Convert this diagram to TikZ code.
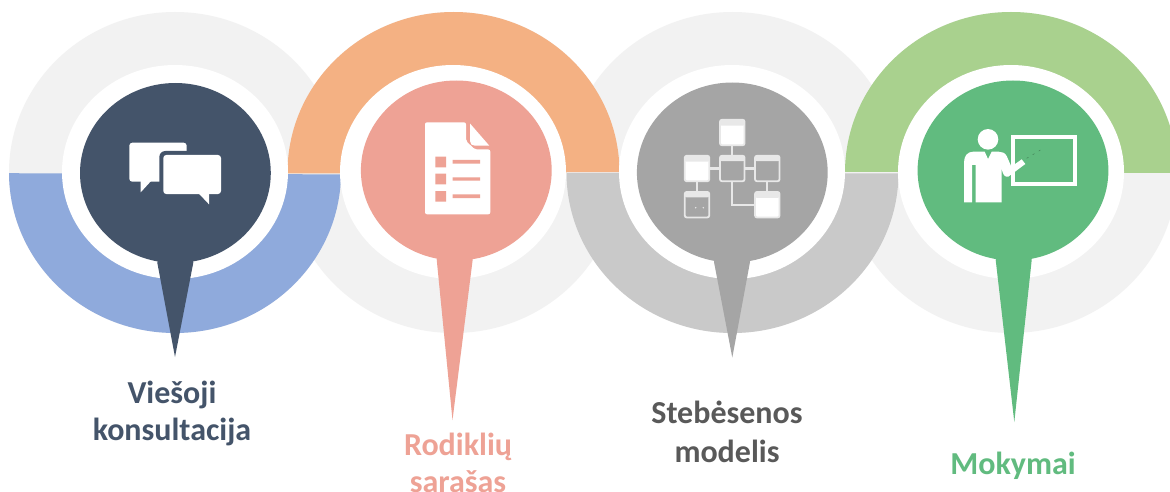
\documentclass[tikz,border=0pt]{standalone}
\usepackage{fontspec}
\setmainfont{Carlito}
\definecolor{ringgray}{HTML}{F2F2F2}
\definecolor{ringblue}{HTML}{8FAADC}
\definecolor{ringorange}{HTML}{F4B183}
\definecolor{ringmid}{HTML}{C9C9C9}
\definecolor{ringgreen}{HTML}{A9D18E}
\definecolor{capslate}{HTML}{44546A}
\definecolor{capsalmon}{HTML}{EEA295}
\definecolor{capgray}{HTML}{A5A5A5}
\definecolor{capgreen}{HTML}{61BB7F}
\definecolor{txtgray}{HTML}{595959}
\definecolor{iconline}{HTML}{E8E8E8}
\newcommand{\ringfull}[1]{\fill[ringgray] (#1,172.5) ellipse [x radius=166pt,y radius=160.5pt];}
% centre, colour, y left, y right, far y
\newcommand{\ringpart}[5]{\begin{scope}\clip (#1-170,#3) -- (#1+170,#4) -- (#1+170,#5) -- (#1-170,#5) -- cycle;
 \fill[#2] (#1,172.5) ellipse [x radius=166pt,y radius=160.5pt];\end{scope}}
\newcommand{\hole}[1]{\fill[white] (#1,172) ellipse [x radius=113pt,y radius=107pt];}
\newcommand{\capdisc}[7]{\fill[#1] (#2,#3) ellipse [x radius=95.4pt,y radius=90pt];
 \fill[#1] (#4,#5) -- (#6,#7) -- (#4+36,#5) -- (#2,#3) -- cycle;}
\tikzset{
 label text/.style={font=\bfseries\fontsize{32}{37}\selectfont,align=center,inner sep=0pt,anchor=base},
 iconbox/.style={rectangle,rounded corners=2pt,draw=iconline,line width=1.8pt,minimum width=24.5pt,minimum height=25.5pt,inner sep=0pt,outer sep=0pt},
 solidbox/.style={iconbox,fill=white,path picture={\fill[iconline] (path picture bounding box.north west) rectangle ([yshift=-6pt]path picture bounding box.north east);}},
 hollowbox/.style={iconbox,fill=capgray,path picture={\fill[iconline] (path picture bounding box.north west) rectangle ([yshift=-5.5pt]path picture bounding box.north east);}},
 iconlink/.style={draw=iconline,line width=2.2pt},
}
\begin{document}
\begin{tikzpicture}[x=1pt,y=-1pt]
\useasboundingbox (0,0) rectangle (1170,492);
\fill[white] (0,0) rectangle (1170,492);
% base rings
\ringfull{175}\ringfull{453.5}\ringfull{732.5}\ringfull{1011}
% coloured halves
\ringpart{175}{ringblue}{173.2}{174.4}{400}
\ringpart{453.5}{ringorange}{173.5}{172}{0}
\ringpart{732.5}{ringmid}{172.8}{173.4}{400}
\ringpart{1011}{ringgreen}{171.8}{173}{0}
% holes
\hole{175}\hole{453}\hole{732}\hole{1011}
% caps and pins
\capdisc{capslate}{175.4}{173}{157.3}{262.7}{175}{357}
\capdisc{capsalmon}{456.3}{170.5}{436.7}{259.5}{452.5}{420}
\capdisc{capgray}{732.3}{172.5}{714}{262}{732.3}{357.5}
\capdisc{capgreen}{1013}{170.5}{995.7}{260}{1014.3}{422}
% icon 1: speech bubbles
\fill[white,rounded corners=3pt] (129.3,142.7) rectangle (186.7,181.7);
\fill[white] (140.7,180) -- (140.7,192.3) -- (152,180) -- cycle;
\fill[capslate,rounded corners=6pt] (159.3,151) rectangle (225,198);
\fill[white,rounded corners=3pt] (163.3,155) rectangle (221,194);
\fill[white] (198.3,193) -- (209,204.3) -- (209,193) -- cycle;
% icon 2: document with list
\fill[white,rounded corners=2pt] (425,122.3) -- (466,122.3) -- (466,141) -- (475,149.5) -- (490.3,149.5) -- (490.3,214.3) -- (425,214.3) -- cycle;
\fill[white] (470,123.5) -- (489.3,145.7) -- (475,145.7) .. controls (472,145.7) and (470,144) .. (470,141) -- cycle;
\fill[capsalmon] (435.3,156.7) rectangle (446,167.3) (435.3,173.7) rectangle (446,184.3) (435.3,191) rectangle (446,201.7);
\fill[capsalmon] (452.7,160) rectangle (480,163.7) (452.7,177.3) rectangle (480,180.7) (452.7,194.3) rectangle (480,198);
% icon 3: flow of boxes
\node[solidbox] (boxtop) at (732.3,132.5) {};
\node[solidbox] (boxleft) at (697,168.5) {};
\node[hollowbox] (boxmid) at (732.3,168.5) {};
\node[hollowbox] (boxright) at (767.3,168.5) {};
\node[hollowbox] (boxlow) at (697,204.7) {};
\node[solidbox] (boxend) at (767.3,204.7) {};
\draw[iconlink] (boxtop) -- (boxmid);
\draw[iconlink] (boxleft) -- (boxmid);
\draw[iconlink] (boxmid) -- (boxright);
\draw[iconlink] (boxleft) -- (boxlow);
\draw[iconlink] (boxright) -- (boxend);
\draw[iconlink] (boxmid.south) |- (boxend.west);
\fill[iconline] (695.7,207.7) circle (0.8pt) (703.3,207.7) circle (0.8pt);
% icon 4: teacher at a board
\draw[white,line width=4pt] (1012.7,136.7) rectangle (1074.7,184.3);
\begin{scope}[shift={(910,90)},x=0.33333pt,y=-0.33333pt]
\fill[white] (234,148) circle (10.3pt);
\fill[white] (162,337) -- (186,337) -- (186,225) -- (197,225) -- (197,337) -- (275,337) -- (275,235) .. controls (278,255) and (285,262) .. (295,260)
 -- (346,222) -- (335,208) -- (304,230) -- (290,198) .. controls (285,188) and (275,185) .. (265,185) -- (245,185) -- (234,207) -- (224,185) -- (190,185) .. controls (172,185) and (162,198) .. (162,218) -- cycle;
\draw[capgreen!70!black,line width=0.5pt,dash pattern=on 2pt off 5pt] (350,205) -- (395,178);
\end{scope}
% labels
\node[label text,text=capslate] (lab1) at (172,440) {Viešoji\\konsultacija};
\node[label text,text=capsalmon] (lab2) at (458,492) {Rodiklių\\sarašas};
\node[label text,text=txtgray] (lab3) at (727,462.5) {Stebėsenos\\[2pt]modelis};
\node[label text,text=capgreen] (lab4) at (1013,474) {Mokymai};
\end{tikzpicture}
\end{document}
